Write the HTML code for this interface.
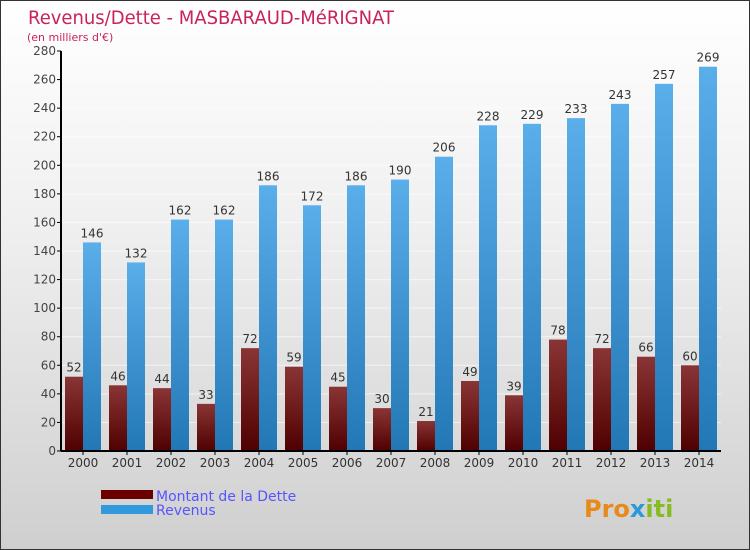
<!DOCTYPE html>
<html><head><meta charset="utf-8"><style>
body{margin:0}
#c{width:750px;height:550px;position:relative;box-sizing:border-box;border:1px solid #333;background:linear-gradient(#ffffff,#f0f0f0 40%,#cfcfcf);font-family:"DejaVu Sans","Liberation Sans",sans-serif;overflow:hidden}
text{font-family:"DejaVu Sans","Liberation Sans",sans-serif}
</style></head><body>
<div id="c">
<svg id="s" width="750" height="550">
<defs>
<linearGradient id="gd" x1="0" y1="0" x2="0" y2="1"><stop offset="0" stop-color="#8a3535"/><stop offset="1" stop-color="#4f0000"/></linearGradient>
<linearGradient id="gr" x1="0" y1="0" x2="0" y2="1"><stop offset="0" stop-color="#5aaeea"/><stop offset="1" stop-color="#2277b5"/></linearGradient>
</defs>
<text x="27" y="23" font-size="19" fill="#c8235a" textLength="366" lengthAdjust="spacingAndGlyphs">Revenus/Dette - MASBARAUD-MéRIGNAT</text>
<text x="26" y="40" font-size="11" fill="#c8235a">(en milliers d'€)</text>
<g id="plot"></g>
<rect x="100" y="489" width="52" height="9" fill="#6b0000"/>
<rect x="100" y="504" width="52" height="9" fill="#3399dd"/>
<text x="155" y="500" font-size="14" fill="#5555ff">Montant de la Dette</text>
<text x="155" y="514" font-size="14" fill="#5555ff">Revenus</text>
<text x="583" y="516" font-size="24" font-weight="bold" fill="#e88a1a">Pro<tspan fill="#2a9ad8">x</tspan><tspan fill="#88bb22">iti</tspan></text>
</svg>
</div>
<script>
const years=["2000","2001","2002","2003","2004","2005","2006","2007","2008","2009","2010","2011","2012","2013","2014"];
const dette=[52,46,44,33,72,59,45,30,21,49,39,78,72,66,60];
const revenus=[146,132,162,162,186,172,186,190,206,228,229,233,243,257,269];
const yTicks=[0,20,40,60,80,100,120,140,160,180,200,220,240,260,280];
const NS="http://www.w3.org/2000/svg";
const g=document.getElementById('plot');
const x0=60,x1=720,yB=450,yT=50,yMax=280;
const step=(x1-x0)/years.length;
const y=v=>yB-(v/yMax)*(yB-yT);
function mk(t,a){const e=document.createElementNS(NS,t);for(const k in a)e.setAttribute(k,a[k]);g.appendChild(e);return e;}
yTicks.forEach(v=>{
  const l=mk('line',{x1:x0,x2:x1,y1:y(v),y2:y(v),stroke:'#ffffff','stroke-width':1,opacity:0.6});
  
  
  const tk=mk('line',{x1:x0-4,x2:x0,y1:y(v),y2:y(v),stroke:'#000'});
  
  
  const t=mk('text',{x:x0-5,y:y(v)+4,'text-anchor':'end','font-size':12,fill:'#444'});
  t.textContent=v;
  
  
});
years.forEach((yr,i)=>{
  const gx=x0+i*step;
  const bars=[[dette[i],'url(#gd)',gx+4,'bar-dette-'+yr],[revenus[i],'url(#gr)',gx+22,'bar-revenus-'+yr]];
  bars.forEach(([v,f,bx,n])=>{
    const r=mk('rect',{x:bx,y:y(v),width:18,height:yB-y(v),fill:f});
    
    
    const t=mk('text',{x:bx+9,y:y(v)-5,'text-anchor':'middle','font-size':12,fill:'#333'});
    t.textContent=v;
    
    
  });
  const tk=mk('line',{x1:gx+22,x2:gx+22,y1:yB,y2:yB+4,stroke:'#000'});
  
  
  const t=mk('text',{x:gx+22,y:yB+16,'text-anchor':'middle','font-size':12,fill:'#333'});
  t.textContent=yr;
  
  
});
const ax=mk('line',{x1:x0,x2:x0,y1:yT,y2:yB,stroke:'#000','stroke-width':2});


const bx=mk('line',{x1:x0,x2:x1,y1:yB,y2:yB,stroke:'#000','stroke-width':2});


</script>
</body></html>
